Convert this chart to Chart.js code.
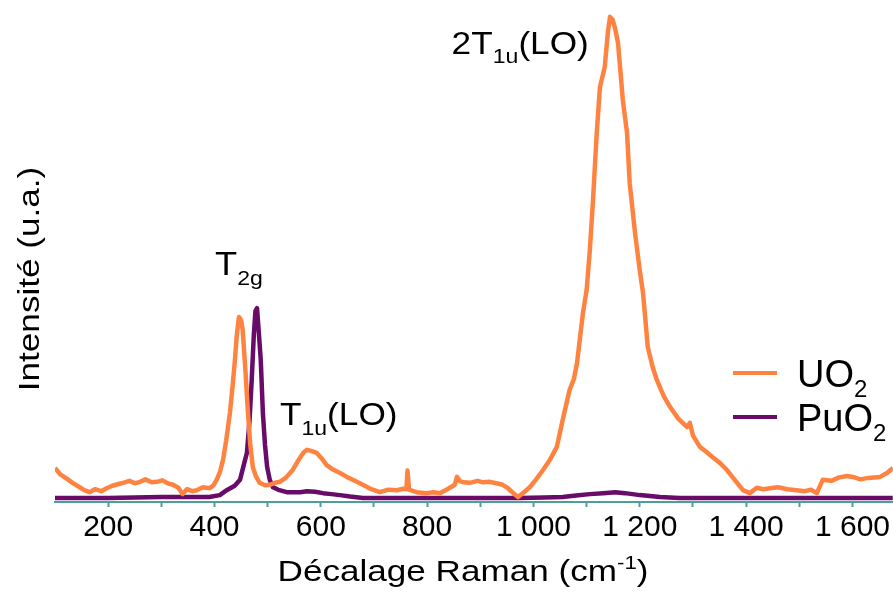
<!DOCTYPE html>
<html>
<head>
<meta charset="utf-8">
<script src="https://cdn.jsdelivr.net/npm/chart.js@4.4.1/dist/chart.umd.min.js"></script>
<style>
  body { margin: 0; background: #fff; }
</style>
</head>
<body>
<canvas id="ramanChart" width="893" height="592"></canvas>
<script>
// ============================
// DATA
// ============================
const uo2Shift = [100,110,120,133,145,155,165,175,187,197,208,218,228,240,250,260,270,282,292,302,312,322,332,340,348,358,367,378,391,398,
  404,410,416,422,429,434,438,442,446,450,453,458,463,467,472,478,485,495,504,514,523,535,547,558,567,574,582,592,602,611,
  623,636,649,662,679,695,711,727,743,755,761,763,766,780,799,812,824,838,852,856,862,870,880,895,905,918,930,942,952,962,
  971,980,993,1005,1018,1031,1044,1055,1068,1076,1082,1093,1100,1106,1112,1119,1125,1134,1140,1144,1149,1154,1159,1164,1168,1176,
  1181,1191,1200,1206,1215,1224,1232,1245,1257,1272,1289,1294,1300,1313,1325,1337,1350,1364,1380,1394,1407,1420,1432,1445,1460,
  1478,1495,1510,1522,1533,1544,1560,1575,1590,1601,1615,1630,1652,1665,1676];
const uo2Intensity = [6.9,5.6,4.9,3.9,3.1,2.4,2.0,2.6,2.2,2.8,3.3,3.6,3.9,4.3,3.8,4.1,4.6,4.0,4.1,4.4,3.8,3.5,2.9,1.6,2.6,2.2,2.4,3.0,2.8,3.4,
  4.5,6.0,8.5,12.5,18.1,23.5,28.3,34.0,37.6,37.0,35.0,27.0,18.1,12.0,7.1,5.2,3.9,3.4,3.5,3.9,4.1,5.0,6.5,8.5,10.0,10.6,10.4,10.0,8.8,7.5,
  6.6,5.9,5.1,4.4,3.5,2.6,2.0,2.5,2.4,2.7,2.6,6.4,2.5,2.0,1.8,2.0,1.8,2.6,3.5,5.1,4.2,4.0,3.9,4.3,4.0,4.1,3.8,3.5,2.8,1.8,
  1.0,1.8,3.0,4.6,6.5,8.6,11.2,16.7,22.8,25.0,28.3,38.4,43.1,51.2,61.4,75.0,84.3,88.4,95.5,98.6,98.0,96.0,93.3,87.0,81.7,75.0,
  64.8,54.7,47.0,42.5,31.5,27.5,24.8,21.5,19.3,17.0,15.2,16.1,13.5,11.2,10.2,9.1,8.0,6.5,4.3,2.4,1.8,2.9,2.6,2.8,3.0,
  2.6,2.4,2.2,2.5,1.8,4.5,4.3,5.0,5.3,5.1,4.6,4.9,5.1,5.9,6.9];

const puo2Shift = [100,150,200,250,300,350,390,410,423,438,448,455,461,466,470,474,477,480,483,487,491,495,499,504,510,522,536,561,574,589,
  604,620,636,655,679,800,900,974,1020,1055,1080,1106,1131,1154,1172,1200,1238,1275,1400,1550,1676];
const puo2Intensity = [0.8,0.8,0.8,0.9,1.0,1.0,1.0,1.4,2.4,3.3,4.5,7.5,10.0,16.7,24.8,34.0,38.8,39.4,35.0,28.9,18.1,11.6,7.1,4.5,3.0,2.4,2.0,2.0,2.2,2.1,
  1.8,1.6,1.4,1.1,0.8,0.8,0.8,0.8,0.9,1.0,1.3,1.6,1.8,2.0,1.8,1.4,1.0,0.8,0.8,0.8,0.8];

const xTickValues = [200, 400, 600, 800, 1000, 1200, 1400, 1600];
const xTickLabels = ["200", "400", "600", "800", "1 000", "1 200", "1 400", "1 600"];

// ============================
// STYLE
// ============================
const FONT = "'Liberation Sans', Arial, sans-serif";
const ORANGE = "#ff8340";
const PURPLE = "#690b69";
const TEAL = "#4e9e9e";

const toPoints = (xs, ys) => xs.map((x, i) => ({ x: x, y: ys[i] }));

// text with sub/superscripts, stretched a little horizontally like the original
function drawRich(ctx, x, y, parts, sx) {
  ctx.save();
  ctx.translate(x, y);
  ctx.scale(sx, 1);
  ctx.fillStyle = "#000";
  ctx.textBaseline = "alphabetic";
  ctx.textAlign = "left";
  let cx = 0;
  parts.forEach(p => {
    ctx.font = p.size + "px " + FONT;
    ctx.fillText(p.t, cx, p.dy || 0);
    cx += ctx.measureText(p.t).width;
  });
  ctx.restore();
}
function richWidth(ctx, parts) {
  let w = 0;
  parts.forEach(p => { ctx.font = p.size + "px " + FONT; w += ctx.measureText(p.t).width; });
  return w;
}

// peak labels, anchored in data units (left edge, baseline)
const peakLabels = [
  { x: 401, y: 46.1, parts: [{ t: "T", size: 33 }, { t: "2g", size: 21, dy: 10 }] },
  { x: 523, y: 15.7, parts: [{ t: "T", size: 32 }, { t: "1u", size: 21, dy: 10 }, { t: "(LO)", size: 32 }] },
  { x: 846, y: 91.1, parts: [{ t: "2T", size: 32 }, { t: "1u", size: 21, dy: 9 }, { t: "(LO)", size: 32 }] }
];

const textPlugin = {
  id: "ramanText",
  afterDraw(chart) {
    const ctx = chart.ctx;
    const xs = chart.scales.x, ys = chart.scales.y;

    peakLabels.forEach(l => {
      drawRich(ctx, xs.getPixelForValue(l.x), ys.getPixelForValue(l.y), l.parts, 1.1);
    });

    // x title
    const xt = [{ t: "Décalage Raman (cm", size: 30 }, { t: "-1", size: 19, dy: -12 }, { t: ")", size: 30 }];
    const sx = 1.17;
    drawRich(ctx, 463 - richWidth(ctx, xt) * sx / 2, 581, xt, sx);

    // y title
    ctx.save();
    ctx.translate(39, 279);
    ctx.rotate(-Math.PI / 2);
    ctx.scale(sx, 1);
    ctx.font = "30px " + FONT;
    ctx.fillStyle = "#000";
    ctx.textAlign = "center";
    ctx.textBaseline = "alphabetic";
    ctx.fillText("Intensité (u.a.)", 0, 0);
    ctx.restore();

    // legend
    chart.data.datasets.forEach((ds, i) => {
      const ly = 373 + i * 44;
      ctx.save();
      ctx.strokeStyle = ds.borderColor;
      ctx.lineWidth = 4;
      ctx.beginPath();
      ctx.moveTo(733, ly);
      ctx.lineTo(777, ly);
      ctx.stroke();
      ctx.restore();
      drawRich(ctx, 797, ly + 14, [{ t: ds.label, size: 38 }, { t: "2", size: 24, dy: 10 }], 1.0);
    });
  }
};

// ============================
// CHART
// ============================
const ctx = document.getElementById("ramanChart").getContext("2d");

const chart = new Chart(ctx, {
  type: "line",
  data: {
    datasets: [{
      label: "UO",
      data: toPoints(uo2Shift, uo2Intensity),
      borderColor: ORANGE,
      borderWidth: 4.5,
      pointRadius: 0,
      tension: 0,
      borderJoinStyle: "round"
    }, {
      label: "PuO",
      data: toPoints(puo2Shift, puo2Intensity),
      borderColor: PURPLE,
      borderWidth: 4.5,
      pointRadius: 0,
      tension: 0,
      borderJoinStyle: "round"
    }]
  },
  options: {
    responsive: false,
    devicePixelRatio: 1,
    animation: false,
    layout: { padding: { left: 55, top: 10, right: 0, bottom: 0 } },
    plugins: {
      legend: { display: false },
      tooltip: { enabled: false }
    },
    scales: {
      x: {
        type: "linear",
        min: 100,
        max: 1676,
        afterBuildTicks(scale) {
          const t = [];
          for (let v = 200; v <= 1600; v += 100) t.push({ value: v });
          scale.ticks = t;
        },
        afterFit(scale) { scale.height = 90; },
        ticks: {
          autoSkip: false,
          maxRotation: 0,
          padding: 3,
          color: "#000",
          font: { family: FONT, size: 30 },
          callback(value) {
            const i = xTickValues.indexOf(value);
            return i >= 0 ? xTickLabels[i] : "";
          }
        },
        grid: {
          drawOnChartArea: false,
          drawTicks: true,
          tickLength: 5,
          tickColor: TEAL,
          tickWidth: 2
        },
        border: { display: true, color: TEAL, width: 2 }
      },
      y: {
        display: false,
        min: 0,
        max: 100
      }
    }
  },
  plugins: [textPlugin]
});
</script>
</body>
</html>
